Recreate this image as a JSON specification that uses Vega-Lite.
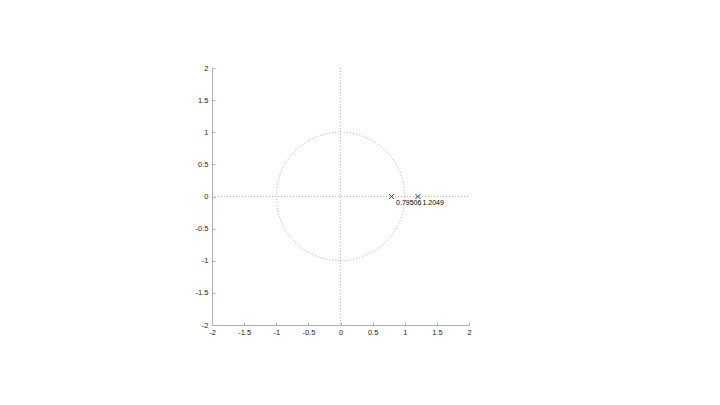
{
  "$schema": "https://vega.github.io/schema/vega-lite/v6.json",
  "width": 257,
  "height": 257,
  "autosize": "none",
  "padding": {"left": 212, "top": 68, "right": 30, "bottom": 60},
  "background": "white",
  "config": {
    "view": {"stroke": null},
    "axis": {
      "grid": false,
      "domainColor": "#b0b0b0",
      "tickColor": "#b0b0b0",
      "tickSize": -3,
      "labelFont": "Liberation Sans",
      "labelFontSize": 7.5,
      "labelColor": "#222222",
      "labelOverlap": false,
      "labelFlush": false,
      "title": null
    },
    "axisX": {"labelPadding": 6},
    "axisY": {"labelPadding": 7}
  },
  "datasets": {
    "poles": [
      {"re": 0.79506, "im": 0, "label": "0.79506"},
      {"re": 1.2049, "im": 0, "label": "1.2049"}
    ],
    "origin": [
      {"re": 0, "im": 0}
    ]
  },
  "encoding": {
    "x": {"field": "re", "type": "quantitative", "scale": {"domain": [-2, 2], "nice": false, "zero": false},
      "axis": {"values": [-2, -1.5, -1, -0.5, 0, 0.5, 1, 1.5, 2], "labelExpr": "toString(datum.value)"}},
    "y": {"field": "im", "type": "quantitative", "scale": {"domain": [-2, 2], "nice": false, "zero": false},
      "axis": {"values": [-2, -1.5, -1, -0.5, 0, 0.5, 1, 1.5, 2], "labelExpr": "toString(datum.value)"}}
  },
  "layer": [
    {
      "data": {"name": "origin"},
      "mark": {"type": "rule", "color": "#b8b8b8", "strokeDash": [1, 2], "strokeWidth": 1},
      "encoding": {
        "x": {"field": "re", "type": "quantitative", "scale": {"domain": [-2, 2], "nice": false, "zero": false},
          "axis": {"values": [-2, -1.5, -1, -0.5, 0, 0.5, 1, 1.5, 2], "labelExpr": "toString(datum.value)"}},
        "y": {"value": 0},
        "y2": {"value": 257}
      }
    },
    {
      "data": {"name": "origin"},
      "mark": {"type": "rule", "color": "#b8b8b8", "strokeDash": [1, 2], "strokeWidth": 1},
      "encoding": {
        "y": {"field": "im", "type": "quantitative", "scale": {"domain": [-2, 2], "nice": false, "zero": false},
          "axis": {"values": [-2, -1.5, -1, -0.5, 0, 0.5, 1, 1.5, 2], "labelExpr": "toString(datum.value)"}},
        "x": {"value": 0},
        "x2": {"value": 257}
      }
    },
    {
      "data": {"name": "origin"},
      "mark": {"type": "point", "shape": "circle", "filled": false, "size": 16512, "stroke": "#a8a8a8", "strokeDash": [1, 2], "strokeWidth": 1, "opacity": 1}
    },
    {
      "data": {"name": "poles"},
      "mark": {"type": "point", "shape": "M-1,-1L1,1M1,-1L-1,1", "filled": false, "size": 25, "stroke": "#2a2aff", "strokeWidth": 1, "opacity": 1}
    },
    {
      "data": {"name": "poles"},
      "mark": {"type": "text", "align": "left", "baseline": "top", "dx": 4.5, "dy": 2, "font": "Liberation Sans", "fontSize": 7, "color": "#000000"},
      "encoding": {
        "text": {"field": "label"}
      }
    }
  ]
}
